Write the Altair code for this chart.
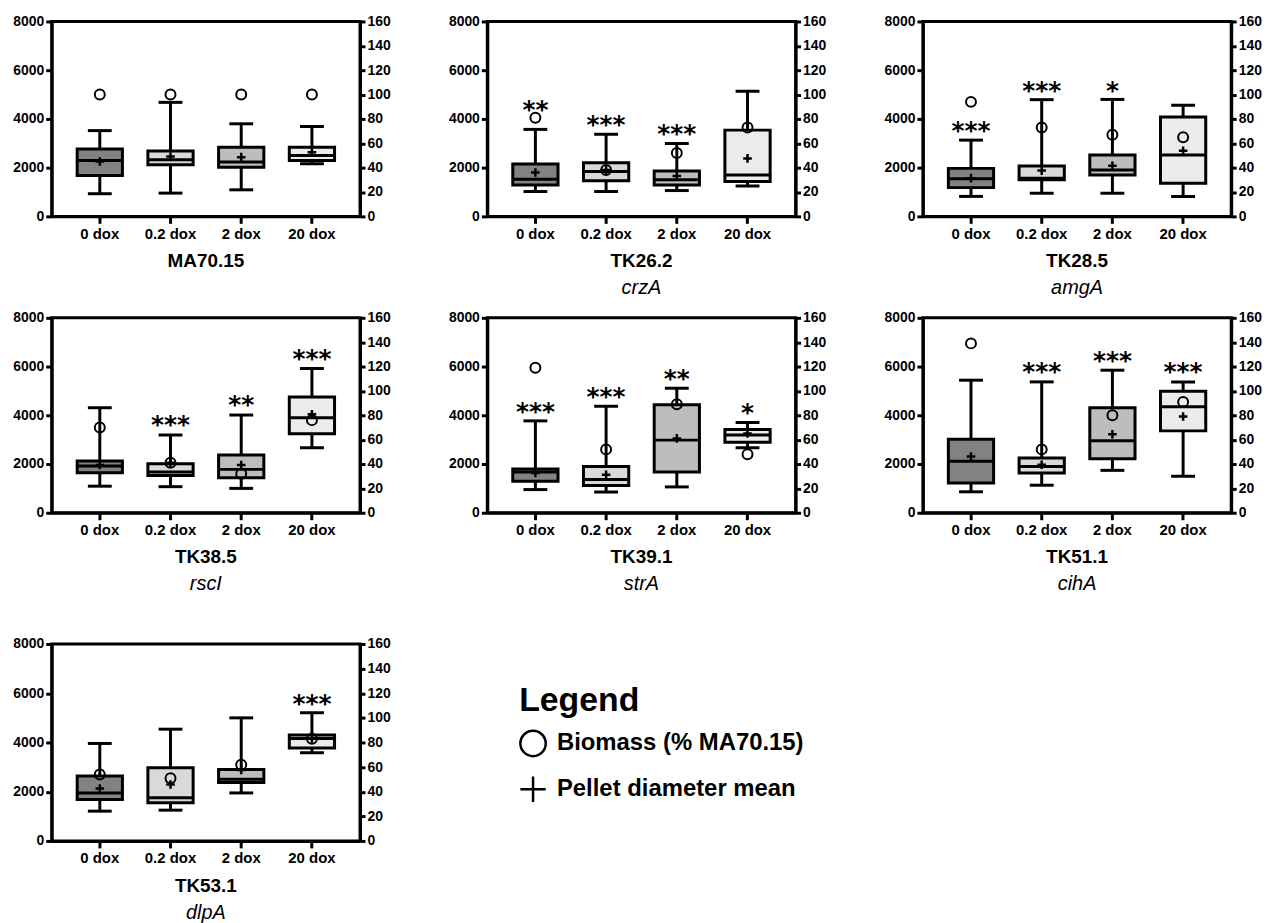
import altair as alt
import pandas as pd

DOSES = ["0 dox", "0.2 dox", "2 dox", "20 dox"]
STRAINS = ["MA70.15", "TK26.2", "TK28.5", "TK38.5", "TK39.1", "TK51.1", "TK53.1"]
GENES = ["", "crzA", "amgA", "rscI", "strA", "cihA", "dlpA"]

WHISK_LO = [
    [930, 955, 1090, 2160],
    [1020, 1020, 1060, 1250],
    [820, 950, 950, 820],
    [1090, 1070, 1000, 2670],
    [950, 850, 1060, 2670],
    [860, 1130, 1740, 1500],
    [1210, 1250, 1950, 3580],
]
Q1 = [
    [1680, 2120, 2020, 2290],
    [1290, 1460, 1290, 1430],
    [1180, 1500, 1700, 1360],
    [1640, 1530, 1440, 3240],
    [1290, 1120, 1670, 2890],
    [1220, 1630, 2220, 3360],
    [1680, 1550, 2370, 3780],
]
MEDIAN = [
    [2290, 2320, 2230, 2500],
    [1520, 1840, 1500, 1700],
    [1540, 1570, 1900, 2520],
    [1920, 1670, 1780, 3900],
    [1670, 1360, 2980, 3190],
    [2110, 1900, 2950, 4350],
    [1950, 1750, 2510, 4160],
]
Q3 = [
    [2770, 2680, 2840, 2840],
    [2150, 2200, 1860, 3540],
    [1970, 2070, 2520, 4080],
    [2120, 2010, 2370, 4750],
    [1800, 1900, 4430, 3420],
    [3020, 2250, 4310, 4990],
    [2640, 2970, 2900, 4300],
]
WHISK_HI = [
    [3520, 4680, 3800, 3690],
    [3570, 3370, 2990, 5140],
    [3130, 4790, 4800, 4560],
    [4310, 3190, 4010, 5920],
    [3770, 4370, 5110, 3700],
    [5440, 5370, 5850, 5370],
    [3960, 4540, 5000, 5210],
]
MEAN = [
    [2250, 2460, 2430, 2630],
    [1800, 1900, 1660, 2380],
    [1570, 1880, 2080, 2690],
    [1960, 2050, 1960, 4040],
    [1630, 1560, 3050, 3250],
    [2310, 1970, 3220, 3950],
    [2130, 2290, 2880, 4160],
]
BIOMASS = [
    [100, 100, 100, 100],
    [81, 38, 52, 73],
    [94, 73, 67, 65],
    [70, 41, 32, 76],
    [119, 52, 89, 48],
    [139, 52, 80, 91],
    [54, 51, 62, 83],
]
STARS = [
    ["", "", "", ""],
    ["**", "***", "***", ""],
    ["***", "***", "*", ""],
    ["", "***", "**", "***"],
    ["***", "***", "**", "*"],
    ["", "***", "***", "***"],
    ["", "", "", "***"],
]
STAR_Y = [
    [None, None, None, None],
    [4630, 4050, 3670, None],
    [3770, 5440, 5440, None],
    [None, 3900, 4690, 6590],
    [4430, 5020, 5760, 4380],
    [None, 6050, 6530, 6050],
    [None, None, None, 5860],
]
LEFT_TICKS = [0, 2000, 4000, 6000, 8000]
RIGHT_TICKS = [0, 20, 40, 60, 80, 100, 120, 140, 160]
SERIES = ["Biomass (% MA70.15)", "Pellet diameter mean"]
BOX_FILLS = ["#828282", "#d9d9d9", "#bdbdbd", "#ebebeb"]
PLUS = "M-1,0L1,0M0,-1L0,1"

W = 310
HEIGHTS = [196, 196, 196, 196, 196, 196, 198]
FONT = "Liberation Sans"

xscale = alt.Scale(domain=DOSES, paddingInner=0.36, paddingOuter=0.36)
x_axis = alt.Axis(title=None, labelAngle=0, labelFontSize=15, labelFontWeight="bold",
                  tickSize=7, tickWidth=3, domainWidth=3, labelPadding=3)
yl_scale = alt.Scale(domain=[0, 8000], nice=False)
yr_scale = alt.Scale(domain=[0, 160], nice=False)
left_axis = alt.Axis(title=None, values=LEFT_TICKS, format="d", grid=False,
                     labelFontSize=14, labelFontWeight="bold", tickSize=6, tickWidth=3,
                     domainWidth=3, labelPadding=2)
right_axis = alt.Axis(title=None, orient="right", values=RIGHT_TICKS, format="d",
                      grid=False, labelFontSize=14, labelFontWeight="bold", tickSize=5,
                      tickWidth=3, domainWidth=3, labelPadding=2)

LEGEND = alt.Legend(title="Legend", orient="none", legendX=470, legendY=666,
                    titleFontSize=34, titleFontWeight="bold", titleColor="black",
                    titleFont=FONT, labelFont=FONT, labelLimit=0,
                    labelFontSize=24, labelFontWeight="bold", labelColor="black",
                    symbolSize=650, symbolStrokeWidth=2.5, symbolStrokeColor="black",
                    symbolFillColor="transparent", rowPadding=10, labelOffset=10,
                    titlePadding=12)
shape_scale = alt.Scale(domain=SERIES, range=["circle", PLUS])


def make_panel(i):
    df = pd.DataFrame({
        "dose": DOSES, "lo": WHISK_LO[i], "q1": Q1[i], "med": MEDIAN[i],
        "q3": Q3[i], "hi": WHISK_HI[i], "mean": MEAN[i], "bio": BIOMASS[i],
        "stars": STARS[i], "star_y": STAR_Y[i],
    })
    base = alt.Chart(df)
    x = alt.X("dose:N", scale=xscale, axis=x_axis, sort=DOSES)

    whisk = base.mark_rule(color="black", strokeWidth=3, opacity=1).encode(
        x=x, y=alt.Y("lo:Q", scale=yl_scale, axis=left_axis), y2="hi:Q")
    box = base.mark_bar(stroke="black", strokeWidth=3, opacity=1).encode(
        x=x, y=alt.Y("q1:Q", scale=yl_scale, axis=left_axis), y2="q3:Q",
        color=alt.Color("dose:N", scale=alt.Scale(domain=DOSES, range=BOX_FILLS), legend=None))
    med = base.mark_tick(color="black", size=46, thickness=3, opacity=1).encode(
        x=x, y=alt.Y("med:Q", scale=yl_scale, axis=left_axis))
    cap_lo = base.mark_tick(color="black", size=24, thickness=3, opacity=1).encode(
        x=x, y=alt.Y("lo:Q", scale=yl_scale, axis=left_axis))
    cap_hi = base.mark_tick(color="black", size=24, thickness=3, opacity=1).encode(
        x=x, y=alt.Y("hi:Q", scale=yl_scale, axis=left_axis))
    mean = base.transform_calculate(series="'Pellet diameter mean'").mark_point(
        filled=False, color="black", strokeWidth=2.5, size=75, opacity=1).encode(
        x=x, y=alt.Y("mean:Q", scale=yl_scale, axis=left_axis),
        shape=alt.Shape("series:N", scale=shape_scale, legend=LEGEND))
    stars = base.transform_filter("datum.stars != ''").mark_text(
        font="DejaVu Sans", fontWeight="bold", fontSize=25, color="black",
        baseline="middle", dy=7).encode(
        x=x, y=alt.Y("star_y:Q", scale=yl_scale, axis=left_axis), text="stars:N")

    left = alt.layer(whisk, box, med, cap_lo, cap_hi, mean, stars)

    bio = base.transform_calculate(series="'Biomass (% MA70.15)'").mark_point(
        filled=False, color="black", strokeWidth=2, size=100, opacity=1).encode(
        x=x, y=alt.Y("bio:Q", scale=yr_scale, axis=right_axis),
        shape=alt.Shape("series:N", scale=shape_scale, legend=LEGEND))

    if GENES[i]:
        title = alt.TitleParams(text=STRAINS[i], subtitle=GENES[i], orient="bottom",
                                anchor="middle", frame="group", fontSize=19,
                                fontWeight="bold", color="black", font=FONT,
                                subtitleFont=FONT, subtitleFontSize=20,
                                subtitleFontStyle="italic", subtitleFontWeight="normal",
                                subtitleColor="black", offset=11, subtitlePadding=7)
    else:
        title = alt.TitleParams(text=STRAINS[i], orient="bottom", anchor="middle",
                                frame="group", fontSize=19, fontWeight="bold",
                                color="black", font=FONT, offset=11)

    return alt.layer(left, bio).resolve_scale(y="independent").properties(
        width=W, height=HEIGHTS[i], title=title)


panels = [make_panel(i) for i in range(7)]
row1 = alt.hconcat(*panels[0:3], spacing=55)
row2 = alt.hconcat(*panels[3:6], spacing=55)
top = alt.vconcat(row1, row2, spacing=9)
chart = alt.vconcat(top, panels[6], spacing=39).resolve_scale(
    shape="shared", color="shared").resolve_legend(shape="shared").properties(
    padding={"left": 11, "top": 10, "right": 5, "bottom": 5}
).configure(font=FONT).configure_axis(
    labelFont=FONT, labelColor="black", domainColor="black", tickColor="black"
).configure_view(stroke="black", strokeWidth=3)

chart.save("out.html", embed_options={"renderer": "svg", "actions": False})
